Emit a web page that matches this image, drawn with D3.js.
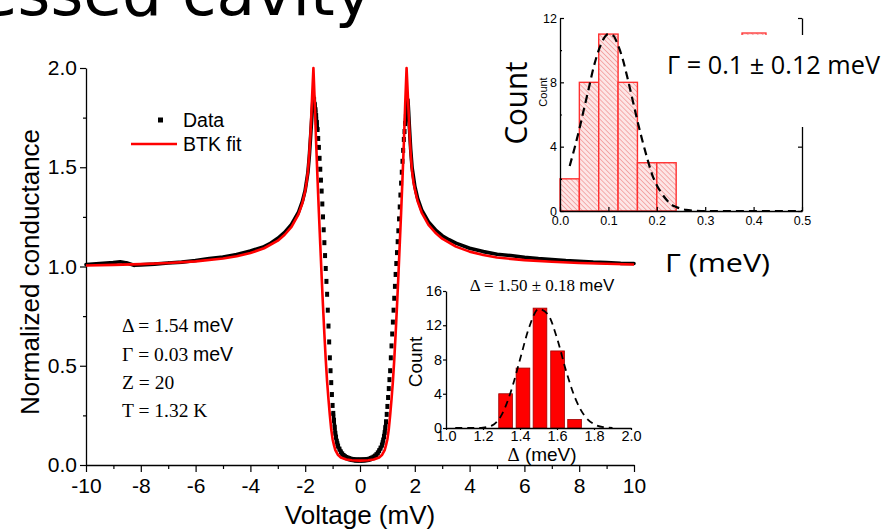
<!DOCTYPE html>
<html><head><meta charset="utf-8">
<script src="https://cdn.jsdelivr.net/npm/d3@7"></script>
<style>body{margin:0;background:#fff}svg{display:block}</style>
</head><body>
<svg id="c" width="887" height="530"></svg>
<script>
// ---------------- DATA ----------------
const voltageTicks = [-10,-8,-6,-4,-2,0,2,4,6,8,10];
const voltageMinorTicks = [-9,-7,-5,-3,-1,1,3,5,7,9];
const conductanceTicks = [0,0.5,1,1.5,2];
const conductanceMinorTicks = [0.25,0.75,1.25,1.75];

// measured data (black)
const dataVoltage = [
 -10,-9.5,-9,-8.75,-8.5,-8.25,-8,-7.5,-7,-6.5,-6,-5.5,-5,-4.5,-4,-3.5,-3.25,-3,-2.75,-2.5,-2.25,-2.1,-2,-1.9,-1.85,-1.8,-1.75,-1.725,
 -1.7,-1.675,-1.65,-1.625,-1.6,-1.575,-1.55,-1.525,-1.5,-1.475,-1.45,-1.425,-1.4,-1.375,-1.35,-1.325,-1.3,-1.275,-1.25,-1.225,-1.2,-1.175,-1.15,-1.125,-1.1,-1.075,-1.05,-1.025,-1,-0.975,-0.95,-0.925,-0.9,-0.875,-0.85,-0.825,-0.8,
 -0.75,-0.7,-0.65,-0.6,-0.55,-0.5,-0.45,-0.4,-0.35,-0.3,-0.25,-0.2,-0.15,-0.1,-0.05,0,0.05,0.1,0.15,0.2,0.25,0.3,0.35,0.4,0.45,0.5,0.55,0.6,0.65,0.7,0.75,
 0.8,0.825,0.85,0.875,0.9,0.925,0.95,0.975,1,1.025,1.05,1.075,1.1,1.125,1.15,1.175,1.2,1.225,1.25,1.275,1.3,1.325,1.35,1.375,1.4,1.425,1.45,1.475,1.5,1.525,1.55,1.575,1.6,1.625,1.65,1.675,1.7,1.725,1.75,
 1.775,1.8,1.85,1.9,2,2.1,2.25,2.5,2.75,3,3.25,3.5,4,4.5,5,5.5,6,6.5,7,7.5,8,8.5,9,9.5,10
];
const dataConductance = [
 1.010,1.015,1.020,1.024,1.018,1.006,1.008,1.012,1.018,1.022,1.030,1.040,1.048,1.060,1.078,1.100,1.118,1.142,1.172,1.212,1.272,1.330,1.385,1.475,1.555,1.660,1.770,1.825,
 1.86,1.84,1.815,1.79,1.76,1.725,1.69,1.645,1.60,1.545,1.49,1.435,1.38,1.315,1.25,1.185,1.12,1.055,0.99,0.925,0.86,0.78,0.70,0.62,0.54,0.475,0.415,0.355,0.30,0.26,0.225,0.19,0.16,0.14,0.12,0.107,0.095,
 0.080,0.066,0.056,0.048,0.042,0.038,0.035,0.032,0.030,0.028,0.027,0.026,0.025,0.025,0.025,0.025,0.025,0.025,0.026,0.026,0.027,0.028,0.030,0.033,0.036,0.040,0.045,0.052,0.061,0.072,0.085,
 0.100,0.112,0.126,0.143,0.163,0.188,0.218,0.255,0.295,0.34,0.385,0.43,0.475,0.54,0.60,0.66,0.72,0.78,0.84,0.90,0.96,1.015,1.07,1.125,1.18,1.24,1.30,1.36,1.42,1.475,1.53,1.585,1.64,1.68,1.72,1.755,1.79,1.82,1.84,
 1.78,1.71,1.59,1.50,1.405,1.345,1.285,1.225,1.185,1.155,1.135,1.118,1.092,1.075,1.062,1.055,1.046,1.040,1.035,1.030,1.026,1.022,1.020,1.016,1.015
];

// BTK fit (red)
const fitVoltage = [
 -10,-9,-8,-7,-6,-5,-4.5,-4,-3.5,-3,-2.75,-2.5,-2.25,-2.1,-2,-1.95,-1.9,-1.85,-1.8,-1.75,-1.7,
 -1.65,-1.6,-1.55,-1.5,-1.45,-1.4,-1.35,-1.3,-1.25,-1.2,-1.15,-1.1,-1.05,-1,-0.95,-0.9,-0.8,-0.7,-0.5,-0.3,0,
 0.3,0.5,0.7,0.8,0.9,0.95,1,1.05,1.1,1.15,1.2,1.25,1.3,1.35,1.4,1.45,1.5,1.55,1.6,1.65,
 1.7,1.75,1.8,1.85,1.9,1.95,2,2.1,2.25,2.5,2.75,3,3.5,4,4.5,5,6,7,8,9,10
];
const fitConductance = [
 1.005,1.008,1.012,1.018,1.026,1.040,1.052,1.068,1.092,1.130,1.160,1.200,1.262,1.320,1.380,1.425,1.480,1.570,1.690,1.850,2.000,
 1.82,1.62,1.44,1.27,1.11,0.95,0.80,0.66,0.53,0.42,0.33,0.25,0.18,0.13,0.10,0.075,0.05,0.038,0.028,0.024,0.022,
 0.024,0.028,0.038,0.05,0.075,0.10,0.13,0.18,0.25,0.33,0.42,0.53,0.66,0.80,0.95,1.11,1.27,1.44,1.62,1.82,
 2.000,1.850,1.690,1.570,1.480,1.425,1.390,1.330,1.272,1.210,1.170,1.140,1.100,1.075,1.058,1.045,1.032,1.024,1.018,1.014,1.010
];

// Gamma histogram (top-right inset)
const gammaBinEdges = [0,0.04,0.08,0.12,0.16,0.20,0.24];
const gammaCounts = [2,8,11,8,3,3];
const gammaTicks = [0,0.1,0.2,0.3,0.4,0.5];
const gammaCountTicks = [0,4,8,12];
const gammaFitX = [0.02,0.03,0.04,0.05,0.06,0.07,0.08,0.09,0.10,0.11,0.12,0.13,0.14,0.15,0.16,0.17,0.18,0.19,0.20,0.21,0.22,0.23,0.24,0.25,0.26,0.28,0.30,0.35,0.40,0.45,0.50];
const gammaFitY = [2.8,3.9,5.1,6.4,7.7,9.0,10.0,10.7,11.0,10.9,10.3,9.4,8.2,6.9,5.6,4.4,3.3,2.3,1.6,1.1,0.7,0.4,0.25,0.14,0.07,0.02,0,0,0,0,0];

// Delta histogram (lower inset)
const deltaBinCenters = [1.322,1.416,1.508,1.603,1.695];
const deltaCounts = [4,7,14,9,1];
const deltaTicks = [1.0,1.2,1.4,1.6,1.8,2.0];
const deltaCountTicks = [0,4,8,12,16];
const deltaFitX = [1.05,1.1,1.15,1.2,1.25,1.3,1.35,1.4,1.45,1.5,1.55,1.6,1.65,1.7,1.75,1.8,1.85,1.9];
const deltaFitY = [0,0,0,0.05,0.3,1.5,4.2,8.0,11.8,13.9,13.3,10.5,6.6,3.4,1.4,0.45,0.1,0.02];

// ---------------- DRAW ----------------
const SANS = "'Liberation Sans', Arial, sans-serif";
const SERIF = "'Liberation Serif', 'Times New Roman', serif";
const OPEN = "'Open Sans', 'Liberation Sans', sans-serif";
const svg = d3.select("#c");

const defs = svg.append("defs");
const pat = defs.append("pattern").attr("id","hatch").attr("patternUnits","userSpaceOnUse")
  .attr("width",3.5).attr("height",3.5).attr("patternTransform","rotate(-45)");
pat.append("rect").attr("width",3.5).attr("height",3.5).attr("fill","#fde6e6");
pat.append("line").attr("x1",0).attr("y1",0).attr("x2",0).attr("y2",3.5).attr("stroke","#f08a8a").attr("stroke-width",1.3);

// title fragment
svg.append("text").attr("x",372).attr("y",15).attr("text-anchor","end")
  .style("font-family","'Comic Sans MS','DejaVu Sans',sans-serif").style("font-size","63px")
  .text("Recessed cavity");

// main scales
const x = d3.scaleLinear().domain([-10,10]).range([86,634]);
const y = d3.scaleLinear().domain([0,2]).range([465,68]);

function styleAxis(g, fs, fam){
  g.selectAll("text").style("font-size",fs+"px").style("font-family",fam).attr("fill","#000");
  g.selectAll("line").attr("stroke","#000").attr("stroke-width",1.2);
  g.selectAll(".domain").attr("stroke","#000").attr("stroke-width",1.3);
}

const gx = svg.append("g").attr("transform","translate(0,465)")
  .call(d3.axisBottom(x).tickValues(voltageTicks).tickSize(7).tickSizeOuter(0).tickPadding(6).tickFormat(d=>String(d)));
styleAxis(gx,21,SANS);
const gxm = svg.append("g").attr("transform","translate(0,465)")
  .call(d3.axisBottom(x).tickValues(voltageMinorTicks).tickSize(4).tickFormat(""));
gxm.select(".domain").remove(); styleAxis(gxm,21,SANS);

const gy = svg.append("g").attr("transform","translate(86,0)")
  .call(d3.axisLeft(y).tickValues(conductanceTicks).tickSize(6).tickSizeOuter(0).tickPadding(3).tickFormat(d3.format(".1f")));
styleAxis(gy,21,SANS);
const gym = svg.append("g").attr("transform","translate(86,0)")
  .call(d3.axisLeft(y).tickValues(conductanceMinorTicks).tickSize(3).tickFormat(""));
gym.select(".domain").remove(); styleAxis(gym,21,SANS);

svg.append("text").attr("x",360).attr("y",524).attr("text-anchor","middle")
  .style("font-family",SANS).style("font-size","26px").text("Voltage (mV)");
svg.append("text").attr("transform","translate(39,272) rotate(-90)").attr("text-anchor","middle")
  .style("font-family",SANS).style("font-size","26px").text("Normalized conductance");

// data (black)
const pts = dataVoltage.map((v,i)=>[x(v), y(dataConductance[i]), v]);
let dpath = "";
for(let i=1;i<pts.length;i++){
  const a=pts[i-1], b=pts[i];
  const outer = Math.min(Math.abs(a[2]),Math.abs(b[2])) >= 1.7;
  if(outer || Math.abs(b[1]-a[1]) < 7) dpath += `M${a[0]},${a[1]}L${b[0]},${b[1]}`;
}
svg.append("path").attr("d",dpath).attr("fill","none").attr("stroke","#000")
  .attr("stroke-width",3.6).attr("stroke-linecap","round");
svg.append("g").selectAll("rect").data(pts.filter(p=>Math.abs(p[2])<1.7)).join("rect")
  .attr("x",p=>p[0]-2).attr("y",p=>p[1]-2.5).attr("width",4).attr("height",5).attr("fill","#000");

// fit (red)
const fitLine = d3.line().x((d,i)=>x(fitVoltage[i])).y((d,i)=>y(fitConductance[i]));
svg.append("path").attr("d",fitLine(fitVoltage)).attr("fill","none").attr("stroke","#ff0000")
  .attr("stroke-width",2.6).attr("stroke-linejoin","round");

// legend
svg.append("rect").attr("x",158).attr("y",117.5).attr("width",5).attr("height",5).attr("fill","#000");
svg.append("text").attr("x",183).attr("y",127).style("font-family",SANS).style("font-size","19.5px").text("Data");
svg.append("line").attr("x1",131).attr("x2",177).attr("y1",144).attr("y2",144).attr("stroke","#ff0000").attr("stroke-width",2.6);
svg.append("text").attr("x",183).attr("y",151).style("font-family",SANS).style("font-size","19.5px").text("BTK fit");

// parameters
const params = [["Δ = 1.54 ","meV",332],["Γ = 0.03 ","meV",361],["Z = 20","",389],["T = 1.32 K","",417]];
params.forEach(p=>{
  const t = svg.append("text").attr("x",122).attr("y",p[2]).style("font-size","19.5px");
  t.append("tspan").style("font-family",SERIF).text(p[0]);
  if(p[1]) t.append("tspan").style("font-family",SANS).text(p[1]);
});

// ---------------- INSET 1 (Gamma) ----------------
const x1 = d3.scaleLinear().domain([0,0.5]).range([560,802]);
const y1 = d3.scaleLinear().domain([0,12]).range([211,18]);

// hidden legend (mostly covered)
svg.append("rect").attr("x",742).attr("y",33).attr("width",24).attr("height",10).attr("fill","url(#hatch)").attr("stroke","#ff3030").attr("stroke-width",1.3);
svg.append("text").attr("x",769).attr("y",44).style("font-family",SANS).style("font-size","13px").text("Bin");

svg.append("g").selectAll("rect").data(gammaCounts).join("rect")
  .attr("x",(d,i)=>x1(gammaBinEdges[i])).attr("width",(d,i)=>x1(gammaBinEdges[i+1])-x1(gammaBinEdges[i]))
  .attr("y",d=>y1(d)).attr("height",d=>y1(0)-y1(d))
  .attr("fill","url(#hatch)").attr("stroke","#ff3030").attr("stroke-width",1.4);

const g1x = svg.append("g").attr("transform","translate(0,211)")
  .call(d3.axisBottom(x1).tickValues(gammaTicks).tickSize(-4).tickSizeOuter(0).tickPadding(5).tickFormat(d3.format(".1f")));
styleAxis(g1x,12.5,SANS);
const g1y = svg.append("g").attr("transform","translate(560,0)")
  .call(d3.axisLeft(y1).tickValues(gammaCountTicks).tickSize(-4).tickSizeOuter(0).tickPadding(3));
styleAxis(g1y,12.5,SANS);
const g1ym = svg.append("g").attr("transform","translate(560,0)")
  .call(d3.axisLeft(y1).tickValues([2,6,10]).tickSize(-2).tickFormat(""));
g1ym.select(".domain").remove(); styleAxis(g1ym,12.5,SANS);
const g1r = svg.append("g").attr("transform","translate(802,0)")
  .call(d3.axisRight(y1).tickValues(gammaCountTicks).tickSize(-4).tickSizeOuter(0).tickFormat(""));
styleAxis(g1r,12.5,SANS);

const gfit = d3.line().x((d,i)=>x1(gammaFitX[i])).y((d,i)=>y1(gammaFitY[i])).curve(d3.curveMonotoneX);
svg.append("path").attr("d",gfit(gammaFitX)).attr("fill","none").attr("stroke","#000")
  .attr("stroke-width",2.2).attr("stroke-dasharray","8,5");

svg.append("text").attr("transform","translate(547,92) rotate(-90)").attr("text-anchor","middle")
  .style("font-family",SANS).style("font-size","11px").text("Count");

// white cover box
svg.append("rect").attr("x",655).attr("y",35).attr("width",232).attr("height",92).attr("fill","#fff");
svg.append("text").attr("x",667).attr("y",74).attr("textLength",213).attr("lengthAdjust","spacingAndGlyphs")
  .style("font-family",OPEN).style("font-size","25px").text("Γ = 0.1 ± 0.12 meV");
svg.append("text").attr("transform","translate(527,103) rotate(-90)").attr("text-anchor","middle")
  .attr("textLength",83).attr("lengthAdjust","spacingAndGlyphs")
  .style("font-family",OPEN).style("font-size","31px").text("Count");
svg.append("text").attr("x",665).attr("y",272).attr("textLength",105).attr("lengthAdjust","spacingAndGlyphs")
  .style("font-family",OPEN).style("font-size","26px").text("Γ (meV)");

// ---------------- INSET 2 (Delta) ----------------
const x2 = d3.scaleLinear().domain([1,2]).range([446,631]);
const y2 = d3.scaleLinear().domain([0,16]).range([428,291]);

svg.append("g").selectAll("rect").data(deltaCounts).join("rect")
  .attr("x",(d,i)=>x2(deltaBinCenters[i]-0.037)).attr("width",x2(1.074)-x2(1))
  .attr("y",d=>y2(d)).attr("height",d=>y2(0)-y2(d))
  .attr("fill","#ff0000").attr("stroke","#a00000").attr("stroke-width",0.8);

const g2x = svg.append("g").attr("transform","translate(0,428)")
  .call(d3.axisBottom(x2).tickValues(deltaTicks).tickSize(2).tickSizeOuter(0).tickPadding(1).tickFormat(d3.format(".1f")));
styleAxis(g2x,14.5,SANS);
const g2y = svg.append("g").attr("transform","translate(446,0)")
  .call(d3.axisLeft(y2).tickValues(deltaCountTicks).tickSize(3).tickSizeOuter(0).tickPadding(1));
styleAxis(g2y,14.5,SANS);

const dfit = d3.line().x((d,i)=>x2(deltaFitX[i])).y((d,i)=>y2(deltaFitY[i])).curve(d3.curveMonotoneX);
svg.append("path").attr("d",dfit(deltaFitX)).attr("fill","none").attr("stroke","#000")
  .attr("stroke-width",1.8).attr("stroke-dasharray","7,5");

svg.append("text").attr("transform","translate(422,362) rotate(-90)").attr("text-anchor","middle")
  .style("font-family",SANS).style("font-size","19px").text("Count");
const dt = svg.append("text").attr("x",542).attr("y",291).attr("text-anchor","middle").style("font-size","17px");
dt.append("tspan").style("font-family",SERIF).text("Δ = 1.50 ± 0.18 ");
dt.append("tspan").style("font-family",SANS).text("meV");
const dl = svg.append("text").attr("x",542).attr("y",461).attr("text-anchor","middle").style("font-size","19px");
dl.append("tspan").style("font-family",SERIF).text("Δ");
dl.append("tspan").style("font-family",SANS).text(" (meV)");
</script>
</body></html>
